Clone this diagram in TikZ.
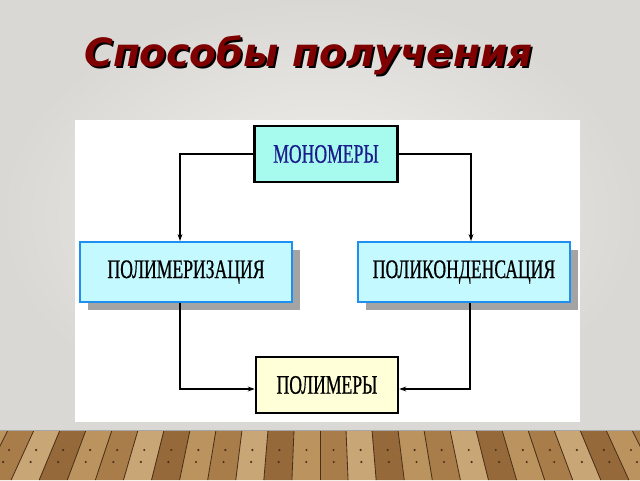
\documentclass[tikz,border=0pt]{standalone}
\usepackage{fontspec}
\setmainfont{Liberation Serif}
\newfontfamily\titlefont{DejaVu Sans}
\newfontfamily\boxfont[FakeStretch=0.66, FakeBold=0.6]{Liberation Serif}
\usetikzlibrary{shapes,positioning,fit,calc,arrows.meta,shadows}

\definecolor{titlered}{HTML}{7E0000}
\definecolor{monofill}{HTML}{A6FAEE}
\definecolor{monotext}{HTML}{1C1C8C}
\definecolor{procfill}{HTML}{C4FAFF}
\definecolor{procline}{HTML}{2090F0}
\definecolor{polyfill}{HTML}{FFFFD8}
\definecolor{shadowgray}{HTML}{A4A4A4}
\definecolor{wallin}{HTML}{F2F1EF}
\definecolor{wallout}{HTML}{DAD8D4}
\definecolor{wood0}{HTML}{A87D4A}
\definecolor{wood1}{HTML}{C9A676}
\definecolor{wood2}{HTML}{96693A}
\definecolor{wood3}{HTML}{BA935F}
\definecolor{seam}{HTML}{4A3018}

\begin{document}
\begin{tikzpicture}
        % Plank width at the wall and how much the planks widen towards us
        \pgfmathsetmacro{\plank}{0.65}
        \pgfmathsetmacro{\spread}{1.08}

        \tikzset{
            boxtext/.style={font=\boxfont\fontsize{19}{22}\selectfont},
            monobox/.style={draw=black, line width=1.8pt, fill=monofill,
                text=monotext, minimum width=3.575cm, minimum height=1.4cm, boxtext},
            procbox/.style={draw=procline, line width=1.4pt, fill=procfill,
                minimum width=5.3cm, minimum height=1.5cm, boxtext,
                drop shadow={shadow xshift=0.2cm, shadow yshift=-0.2cm,
                    fill=shadowgray, opacity=1}},
            polybox/.style={draw=black, line width=1.8pt, fill=polyfill,
                minimum width=3.55cm, minimum height=1.4cm, boxtext},
            link/.style={line width=1.7pt, -{Stealth[length=5pt, width=3.5pt]}},
            titletext/.style={font=\titlefont\bfseries\itshape\fontsize{27.7}{32}\selectfont},
        }

        \useasboundingbox (0,0) rectangle (16,12);

        % Wall
        \shade[inner color=wallin, outer color=wallout] (0,1.25) rectangle (16,12);

        % Wooden floor
        \begin{scope}
            \clip (0,0) rectangle (16,1.25);
            \foreach \i [evaluate=\i as \c using {int(mod(\i+40,4))}] in {-14,...,13} {
                \fill[wood\c] ({8+(\i)*\plank},1.25) -- ({8+(\i+1)*\plank},1.25)
                    -- ({8+(\i+1)*\plank*\spread},0) -- ({8+(\i)*\plank*\spread},0) -- cycle;
                \draw[seam, line width=0.6pt] ({8+(\i)*\plank},1.25) -- ({8+(\i)*\plank*\spread},0);
                \fill[seam] ({8+(\i+0.5)*\plank*1.04},0.75) circle (0.03);
                \fill[seam] ({8+(\i+0.5)*\plank*1.06},0.45) circle (0.03);
            }
            \draw[gray!70, line width=1pt] (0,1.25) -- (16,1.25);
        \end{scope}

        % White panel behind the diagram
        \fill[white] (1.875,1.45) rectangle (14.5,9.0);

        % Title with its shadow
        \node[titletext, text=black] (titleshade) at (7.76,10.575) {Способы получения};
        \node[titletext, text=titlered] (title) at (7.71,10.625) {Способы получения};

        % Boxes
        \node[monobox] (mono) at (8.15,8.15) {МОНОМЕРЫ};
        \node[procbox] (poliz) at (4.65,5.2) {ПОЛИМЕРИЗАЦИЯ};
        \node[procbox] (polik) at (11.6,5.2) {ПОЛИКОНДЕНСАЦИЯ};
        \node[polybox] (polim) at (8.175,2.375) {ПОЛИМЕРЫ};

        % Connectors
        \draw[link] (mono.west) -| ([xshift=-0.15cm]poliz.north);
        \draw[link] (mono.east) -| ([xshift=0.175cm]polik.north);
        \draw[link] ([xshift=-0.15cm]poliz.south) |- ([yshift=-0.1cm]polim.west);
        \draw[link] ([xshift=0.15cm]polik.south) |- ([yshift=-0.1cm]polim.east);
\end{tikzpicture}
\end{document}
